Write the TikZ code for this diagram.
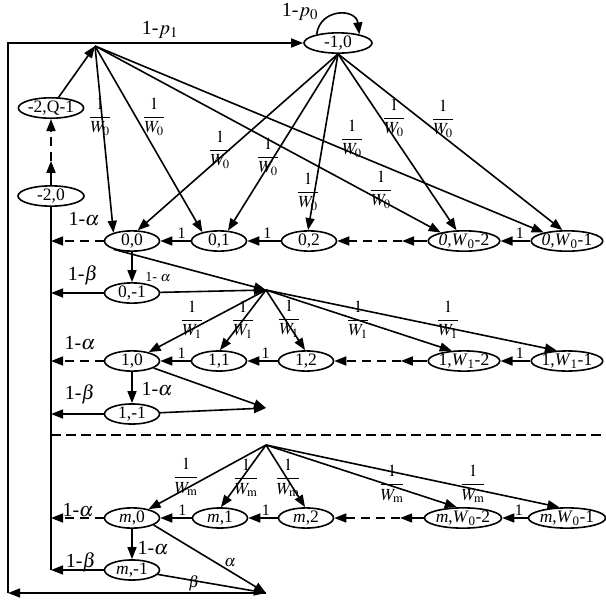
\documentclass[tikz,border=0pt]{standalone}
\usepackage{amsmath}
\usepackage{mathptmx}
\usepackage{fontspec}
\setmainfont{Liberation Serif}
\usepackage{tikz}
\usetikzlibrary{arrows.meta,shapes.geometric,calc}
\newcommand{\invw}[1]{$\dfrac{1}{W_{#1}}$}
\newcommand{\dasharr}[2]{%
  \draw[arr] (#1) -- ($(#1)!0.4!(#2)$);
  \draw[arr,dsh] ($(#1)!0.4!(#2)$) -- (#2);}

\begin{document}
\begin{tikzpicture}[x=1pt,y=-1pt,line width=1.6pt,
  state/.style={draw,ellipse,inner sep=0pt,minimum width=55pt,minimum height=19pt,font=\fontsize{17.5}{19}\selectfont},
  wide/.style={minimum width=68pt},
  arr/.style={-{Triangle[length=12pt,width=9pt]}},
  dsh/.style={dash pattern=on 9pt off 6pt},
  wlab/.style={inner sep=0pt,font=\fontsize{17}{19}\selectfont},
  one/.style={inner sep=0pt,font=\fontsize{16}{18}\selectfont},
  biglab/.style={inner sep=0pt,font=\fontsize{20}{22}\selectfont},
  sml/.style={inner sep=0pt,font=\fontsize{14}{16}\selectfont}]
  \useasboundingbox (0,0) rectangle (606,600);

  \node[state,wide] (m10) at (338,43) {-1,0};
  \node[state,minimum width=65pt] (m2q) at (51,108) {-2,Q-1};
  \node[state,minimum width=66pt] (m20) at (51,196) {-2,0};

  \node[state] (n00) at (132,241) {0,0};
  \node[state] (n01) at (219,241) {0,1};
  \node[state] (n02) at (309,241) {0,2};
  \node[state,wide] (n0a) at (464,241) {\textit{0,W}\textsubscript{0}-2};
  \node[state,minimum width=70pt] (n0b) at (567,241) {\textit{0,W}\textsubscript{0}-1};
  \node[state] (n0m) at (132,293) {0,-1};

  \node[state] (n10) at (132,361) {1,0};
  \node[state] (n11) at (219,361) {1,1};
  \node[state] (n12) at (306,361) {1,2};
  \node[state,wide] (n1a) at (464,361) {1,\textit{W}\textsubscript{1}-2};
  \node[state,minimum width=70pt] (n1b) at (567,361) {1,\textit{W}\textsubscript{1}-1};
  \node[state] (n1m) at (132,414) {1,-1};

  \node[state] (nm0) at (132,518) {\textit{m},0};
  \node[state] (nm1) at (220,518) {\textit{m},1};
  \node[state] (nm2) at (306,518) {\textit{m},2};
  \node[state,minimum width=74pt] (nma) at (463,518) {\textit{m},\textit{W}\textsubscript{0}-2};
  \node[state,minimum width=70pt] (nmb) at (567,518) {\textit{m},\textit{W}\textsubscript{0}-1};
  \node[state] (nmm) at (132,570) {\textit{m},-1};

  \coordinate (P0) at (95,46);
  \coordinate (P1) at (266,290);
  \coordinate (Q1) at (266,408);
  \coordinate (Pm) at (266,445);
  \coordinate (Qm) at (266,593);
  \coordinate (BL) at (8,593);
  \coordinate (L00) at (51,241);
  \coordinate (L0m) at (51,293);
  \coordinate (L10) at (51,361);
  \coordinate (L1m) at (51,414);
  \coordinate (Lm0) at (51,518);
  \coordinate (Lmm) at (51,570);
  \coordinate (S0) at (51,435);
  \coordinate (S1) at (606,435);

  \draw[arr] (BL) |- (m10);
  \draw[arr] (Qm) -- (BL);
  \draw (m20) -- (Lmm);
  \draw[dash pattern=on 10pt off 5pt] (S0) -- (S1);
  \draw[arr] (m10.158) .. controls (320,8) and (356,8) .. (m10.22);
  \node[biglab] (lp1) at (160,30) {1-$p_1$};
  \node[biglab] (lp0) at (300,12) {1-$p_0$};

  \dasharr{m20}{m2q}
  \draw[arr] (m2q) -- (P0);
  \draw[arr] (P0) -- (n00.156);
  \draw[arr] (P0) -- (n01.152);
  \draw[arr] (P0) -- (n0a.160);
  \draw[arr] (P0) -- (n0b.160);
  \draw[arr] (m10.south) -- (n00.62);
  \draw[arr] (m10.south) -- (n01.49);
  \draw[arr] (m10.south) -- (n02.95);
  \draw[arr] (m10.south) -- (n0a.125);
  \draw[arr] (m10.south) -- (n0b.113);
  \node[wlab] (f01) at (100,117) {\invw0};
  \node[wlab] (f02) at (154,117) {\invw0};
  \node[wlab] (f03) at (220,150) {\invw0};
  \node[wlab] (f04) at (268,157) {\invw0};
  \node[wlab] (f05) at (308,192) {\invw0};
  \node[wlab] (f06) at (352,139) {\invw0};
  \node[wlab] (f07) at (381,190) {\invw0};
  \node[wlab] (f08) at (394,118) {\invw0};
  \node[wlab] (f09) at (443,119) {\invw0};

  \draw[arr] (n01) -- node[one,pos=0.3,above=2pt]{1} (n00);
  \draw[arr] (n02) -- node[one,pos=0.4,above=2pt]{1} (n01);
  \draw[arr] (n0b) -- node[one,pos=0.35,above=2pt]{1} (n0a);
  \dasharr{n0a}{n02}
  \draw[arr,dsh] (n00) -- (L00);
  \draw[arr] (n0m) -- (L0m);
  \draw[arr] (n00) -- (n0m);
  \draw[arr] (n00.204) -- (P1);
  \draw[arr] (n0m) -- (P1);
  \node[biglab] (a0) at (84,219) {1-$\alpha$};
  \node[biglab] (b0) at (83,275) {1-$\beta$};
  \node[sml] (c0) at (158,277) {1- $\alpha$};

  \draw[arr] (P1) -- (n10.28);
  \draw[arr] (P1) -- (n11.85);
  \draw[arr] (P1) -- (n12.95);
  \draw[arr] (P1) -- (n1a.140);
  \draw[arr] (P1) -- (n1b.134);
  \node[wlab] (f11) at (192,320) {\invw1};
  \node[wlab] (f12) at (243,320) {\invw1};
  \node[wlab] (f13) at (289,319) {\invw1};
  \node[wlab] (f14) at (358,320) {\invw1};
  \node[wlab] (f15) at (448,320) {\invw1};
  \draw[arr] (n11) -- node[one,pos=0.3,above=2pt]{1} (n10);
  \draw[arr] (n12) -- node[one,pos=0.4,above=2pt]{1} (n11);
  \draw[arr] (n1b) -- node[one,pos=0.35,above=2pt]{1} (n1a);
  \dasharr{n1a}{n12}
  \draw[arr,dsh] (n10) -- (L10);
  \draw[arr] (n1m) -- (L1m);
  \draw[arr] (n10) -- (n1m);
  \draw[arr] (n10.342) -- (Q1);
  \draw[arr] (n1m) -- (Q1);
  \node[biglab] (a1) at (80,343) {1-$\alpha$};
  \node[biglab] (b1) at (80,394) {1-$\beta$};
  \node[biglab] (c1) at (157,389) {1-$\alpha$};

  \draw[arr] (Pm) -- (nm0.28);
  \draw[arr] (Pm) -- (nm1.85);
  \draw[arr] (Pm) -- (nm2.95);
  \draw[arr] (Pm) -- (nma.120);
  \draw[arr] (Pm) -- (nmb.125);
  \node[wlab] (fm1) at (186,477) {\invw{\mathrm{m}}};
  \node[wlab] (fm2) at (246,478) {\invw{\mathrm{m}}};
  \node[wlab] (fm3) at (288,478) {\invw{\mathrm{m}}};
  \node[wlab] (fm4) at (392,484) {\invw{\mathrm{m}}};
  \node[wlab] (fm5) at (473,484) {\invw{\mathrm{m}}};
  \draw[arr] (nm1) -- node[one,pos=0.3,above=2pt]{1} (nm0);
  \draw[arr] (nm2) -- node[one,pos=0.4,above=2pt]{1} (nm1);
  \draw[arr] (nmb) -- node[one,pos=0.35,above=2pt]{1} (nma);
  \dasharr{nma}{nm2}
  \draw[arr,dsh] (nm0) -- (Lm0);
  \draw[arr] (nmm) -- (Lmm);
  \draw[arr] (nm0) -- (nmm);
  \draw[arr] (nm0.342) -- (Qm);
  \draw[arr] (nmm) -- (Qm);
  \node[biglab] (am) at (78,510) {1-$\alpha$};
  \node[biglab] (bm) at (81,562) {1-$\beta$};
  \node[biglab] (cm) at (153,548) {1-$\alpha$};
  \node[one] (dm) at (230,563) {$\alpha$};
  \node[one] (em) at (194,583) {$\beta$};
\end{tikzpicture}
\end{document}
